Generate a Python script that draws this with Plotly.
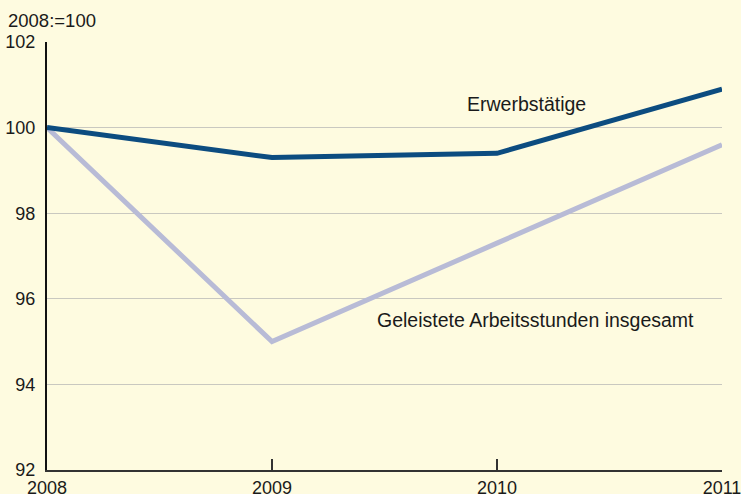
import plotly.graph_objects as go

# Data
years = [2008, 2009, 2010, 2011]
erwerbstaetige = [100.0, 99.3, 99.4, 100.9]
arbeitsstunden = [100.0, 95.0, 97.3, 99.6]
y_ticks = [92, 94, 96, 98, 100, 102]

bg = "#FEFBE0"
font = "Liberation Sans, Arial, sans-serif"

fig = go.Figure()
fig.add_trace(go.Scatter(x=years, y=arbeitsstunden, mode="lines",
                         line=dict(color="#B8BBD6", width=5), name="Geleistete Arbeitsstunden insgesamt"))
fig.add_trace(go.Scatter(x=years, y=erwerbstaetige, mode="lines",
                         line=dict(color="#0C4C80", width=5), name="Erwerbstätige"))

fig.add_annotation(x=2010.13, y=100.55, text="Erwerbstätige", showarrow=False,
                   font=dict(size=19.5, color="#1a1a1a", family=font))
fig.add_annotation(x=2010.17, y=95.5, text="Geleistete Arbeitsstunden insgesamt", showarrow=False,
                   font=dict(size=19.5, color="#1a1a1a", family=font))
fig.add_annotation(x=0, xref="paper", xanchor="left", xshift=-41, y=1, yref="paper",
                   yanchor="bottom", yshift=9, text="2008:=100", showarrow=False,
                   font=dict(size=18.5, color="#1a1a1a", family=font))

fig.update_layout(
    width=741, height=494,
    margin=dict(l=47, r=19, t=42, b=24),
    paper_bgcolor=bg, plot_bgcolor=bg,
    showlegend=False,
    font=dict(family=font, size=17, color="#1a1a1a"),
)
fig.update_xaxes(range=[2008, 2011], tickvals=years, showgrid=False, zeroline=False,
                 showline=True, linecolor="#333333", linewidth=2, automargin=False,
                 ticks="inside", ticklen=11, tickwidth=1.5, tickcolor="#333333",
                 tickfont=dict(size=18), ticklabelstandoff=0, ticklabeloverflow="allow")
fig.update_yaxes(range=[92, 102], tickvals=y_ticks, showgrid=True, gridcolor="#C9C8C0", gridwidth=1,
                 zeroline=False, showline=True, linecolor="#111111", linewidth=2, automargin=False,
                 ticks="", tickfont=dict(size=18), ticklabelstandoff=6, ticklabeloverflow="allow")

# page body has a default 8px margin; remove it so the figure fills the window
fig.write_html("out.html", config={"displayModeBar": False},
               post_script="document.body.style.margin='0';")
